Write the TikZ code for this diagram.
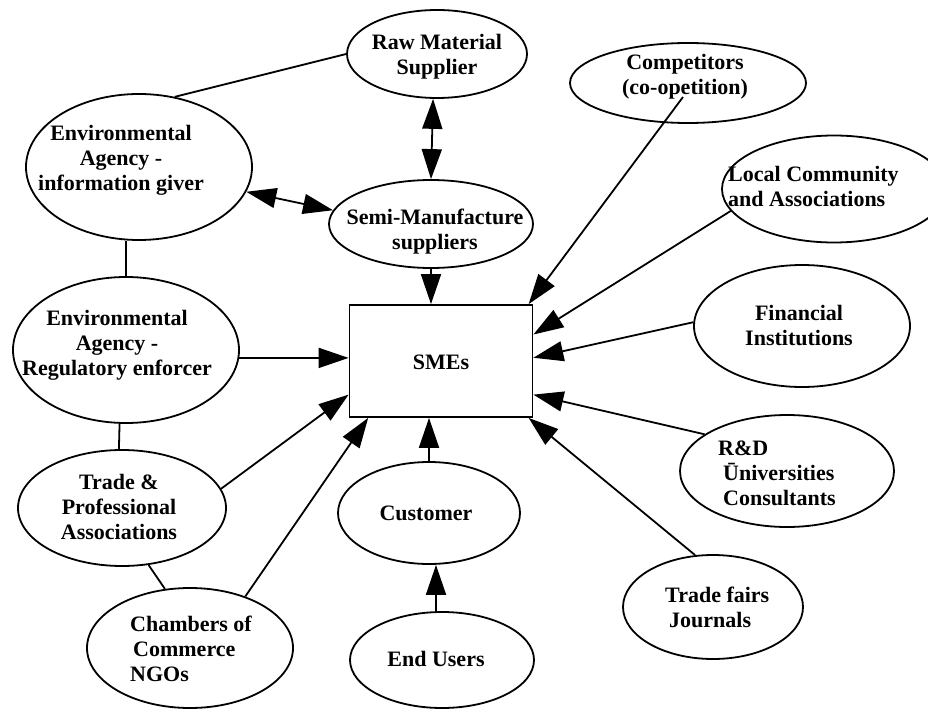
\documentclass[tikz,border=0pt]{standalone}
\usepackage{fontspec}
\setmainfont{Liberation Serif}
\usetikzlibrary{arrows.meta,shapes.geometric}

\begin{document}
\begin{tikzpicture}[x=1pt,y=-1pt,
  party/.style={ellipse, draw, line width=1.8pt, inner sep=0pt},
  firm/.style={rectangle, draw, line width=1.8pt, inner sep=0pt},
  tag/.style={inner sep=0pt, font=\bfseries\fontsize{22}{25}\selectfont, align=center},
  ltag/.style={tag, align=left, anchor=west},
  link/.style={line width=1.8pt},
  head/.tip={Triangle[length=30pt,width=20pt]},
  flow/.style={link, -head},
  mutual/.style={link, head-head},
]
\useasboundingbox (0,0) rectangle (928,711);

% the firm at the centre
\node[firm, minimum width=183pt, minimum height=112pt] (sme) at (441,361) {};

% surrounding actors (outlines)
\node[party, minimum width=180pt, minimum height=88pt]  (raw)   at (437,54)  {};
\node[party, minimum width=204pt, minimum height=88pt]  (semi)  at (431,224) {};
\node[party, minimum width=226pt, minimum height=146pt] (info)  at (139,167) {};
\node[party, minimum width=226pt, minimum height=146pt] (reg)   at (126,350) {};
\node[party, minimum width=208pt, minimum height=116pt] (trade) at (122,508) {};
\node[party, minimum width=206pt, minimum height=120pt] (cham)  at (190,648) {};
\node[party, minimum width=182pt, minimum height=102pt] (cust)  at (429,513) {};
\node[party, minimum width=184pt, minimum height=96pt]  (endu)  at (442,660) {};
\node[party, minimum width=236pt, minimum height=80pt]  (comp)  at (688,83)  {};
\node[party, minimum width=224pt, minimum height=107pt] (local) at (834,189) {};
\node[party, minimum width=216pt, minimum height=122pt] (fin)   at (802,326) {};
\node[party, minimum width=214pt, minimum height=112pt] (rd)    at (787,471) {};
\node[party, minimum width=180pt, minimum height=104pt] (fair)  at (713,607) {};

% labels
\node[tag]  (sme-t)   at (441,362) {SMEs};
\node[tag]  (raw-t)   at (437,57)  {Raw Material\\Supplier};
\node[tag]  (semi-t)  at (435,232) {Semi-Manufacture\\suppliers};
\node[tag]  (info-t)  at (121,160) {Environmental\\Agency -\\information giver};
\node[tag]  (reg-t)   at (117,345) {Environmental\\Agency -\\Regulatory enforcer};
\node[tag]  (trade-t) at (119,507) {Trade \&\\Professional\\Associations};
\node[ltag] (cham-t)  at (130,649) {Chambers of\\\hspace*{3pt}Commerce\\NGOs};
\node[tag]  (cust-t)  at (426,513) {Customer};
\node[tag]  (endu-t)  at (436,659) {End Users};
\node[tag]  (comp-t)  at (685,77)  {Competitors\\(co-opetition)};
\node[ltag] (local-t) at (728,186) {Local Community\\and Associations};
\node[tag]  (fin-t)   at (799,326) {Financial\\Institutions};
\node[ltag] (rd-t)    at (718,473) {R\&D\\\hspace*{5pt}Ūniversities\\\hspace*{5pt}Consultants};
\node[ltag] (fair-t)  at (665,607) {Trade fairs\\\hspace*{4pt}Journals};

% plain links between actors
\draw[link] (raw.180) -- (info.63);
\draw[link] (info.south -| reg.north) -- (reg.north);
\draw[link] (reg.265) -- (trade.93);
\draw[link] (trade.-65) -- (cham.113);

% two-way exchanges
\draw[mutual] (raw.265) -- (semi.90);
\draw[mutual] (info.-13) -- (semi.172);

% influences on the firm
\draw[flow] (semi.south) -- (sme.100);
\draw[flow] (reg.-4) -- (reg.-4 -| sme.west);
\draw[flow] (trade.11) -- (sme.200);
\draw[flow] (cham.43) -- (sme.218);
\draw[flow] (cust.north) -- (cust.north |- sme.south);
\draw[flow] ([xshift=-6pt]endu.north) -- ([xshift=-6pt]endu.north |- cust.south);
\draw[flow] ([shift={(-5,14)}]comp.center) -- (sme.33);
\draw[flow] (local.192) -- (sme.16);
\draw[flow] (fin.178) -- (sme.2.5);
\draw[flow] (rd.156) -- (sme.-20);
\draw[flow] (fair.109) -- (sme.-33);
\end{tikzpicture}
\end{document}
